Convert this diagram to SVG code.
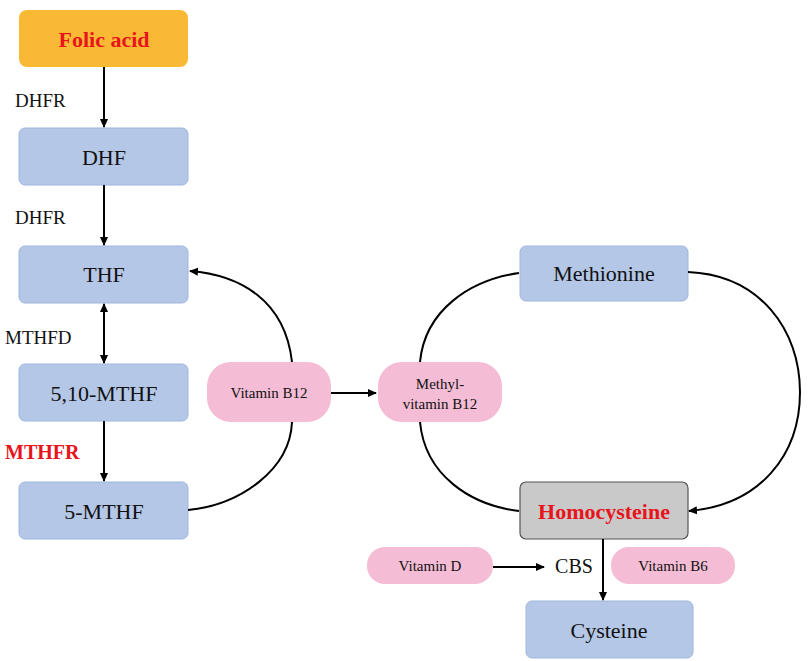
<svg xmlns="http://www.w3.org/2000/svg" width="808" height="661" viewBox="0 0 808 661">
<defs>
<marker id="ah" markerWidth="10" markerHeight="10" refX="8" refY="5" orient="auto-start-reverse" markerUnits="userSpaceOnUse"><path d="M0,1 L9,5 L0,9 Z" fill="#000"/></marker>
<style>
.b{fill:#B4C7E7;stroke:#9FB6DD;stroke-width:1}
.p{fill:#F5BDD5;stroke:none}
.t{font-family:"Liberation Serif",serif;font-size:22px;fill:#111;text-anchor:middle;dominant-baseline:central}
.s{font-family:"Liberation Serif",serif;font-size:15px;fill:#111;text-anchor:middle;dominant-baseline:central}
.l{font-family:"Liberation Serif",serif;font-size:19px;fill:#111;dominant-baseline:central}
.r{fill:#E8141C;font-weight:bold}
.c{fill:none;stroke:#000;stroke-width:2}
</style>
</defs>
<rect width="808" height="661" fill="#fff"/>
<g id="folic"><rect x="19" y="10" width="169" height="57" rx="8" fill="#F9B934"/><text class="t r" x="104" y="39">Folic acid</text></g>
<g id="dhf"><rect class="b" x="19" y="128" width="169" height="57" rx="6"/><text class="t" x="104" y="157">DHF</text></g>
<g id="thf"><rect class="b" x="19" y="246" width="169" height="57" rx="6"/><text class="t" x="104" y="274">THF</text></g>
<g id="mthf510"><rect class="b" x="19" y="364" width="169" height="57" rx="6"/><text class="t" x="104" y="393">5,10-MTHF</text></g>
<g id="mthf5"><rect class="b" x="19" y="482" width="169" height="57" rx="6"/><text class="t" x="104" y="511">5-MTHF</text></g>
<g id="b12"><rect class="p" x="207" y="362" width="124" height="60" rx="24"/><text class="s" x="269" y="393">Vitamin B12</text></g>
<g id="mb12"><rect class="p" x="378" y="362" width="124" height="60" rx="24"/><text class="s" x="440" y="384">Methyl-</text><text class="s" x="440" y="404">vitamin B12</text></g>
<g id="methionine"><rect class="b" x="520" y="246" width="168" height="55" rx="6"/><text class="t" x="604" y="273">Methionine</text></g>
<g id="homocysteine"><rect x="520" y="482" width="168" height="57" rx="6" fill="#C9C9C9" stroke="#555" stroke-width="1.2"/><text class="t r" x="604" y="511">Homocysteine</text></g>
<g id="vitd"><rect class="p" x="367" y="547" width="126" height="37" rx="18"/><text class="s" x="430" y="566">Vitamin D</text></g>
<g id="vitb6"><rect class="p" x="611" y="547" width="124" height="37" rx="18"/><text class="s" x="673" y="566">Vitamin B6</text></g>
<g id="cysteine"><rect class="b" x="526" y="601" width="167" height="57" rx="6"/><text class="t" x="609" y="630">Cysteine</text></g>
<g id="labels">
<text class="l" x="15" y="100">DHFR</text>
<text class="l" x="15" y="217">DHFR</text>
<text class="l" x="5" y="337">MTHFD</text>
<text class="l r" x="5" y="452" style="font-size:20px">MTHFR</text>
<text class="t" x="574" y="566" style="font-size:20px">CBS</text>
</g>
<g id="connectors">
<line class="c" x1="104" y1="67" x2="104" y2="127" marker-end="url(#ah)"/>
<line class="c" x1="104" y1="185" x2="104" y2="245" marker-end="url(#ah)"/>
<line class="c" x1="104" y1="304" x2="104" y2="363" marker-start="url(#ah)" marker-end="url(#ah)"/>
<line class="c" x1="104" y1="421" x2="104" y2="481" marker-end="url(#ah)"/>
<line class="c" x1="331" y1="393" x2="376" y2="393" marker-end="url(#ah)"/>
<path class="c" d="M292,362 C285,300 240,275 190,271" marker-end="url(#ah)"/>
<path class="c" d="M188,510 C240,505 290,470 292,422"/>
<path class="c" d="M420,362 C425,310 470,280 519,273"/>
<path class="c" d="M420,422 C425,475 470,505 519,511"/>
<path class="c" d="M688,272 C760,275 800,330 800,392 C800,455 760,505 689,511" marker-end="url(#ah)"/>
<line class="c" x1="493" y1="567" x2="544" y2="567" marker-end="url(#ah)"/>
<line class="c" x1="603" y1="539" x2="603" y2="600" marker-end="url(#ah)"/>
</g>
</svg>
